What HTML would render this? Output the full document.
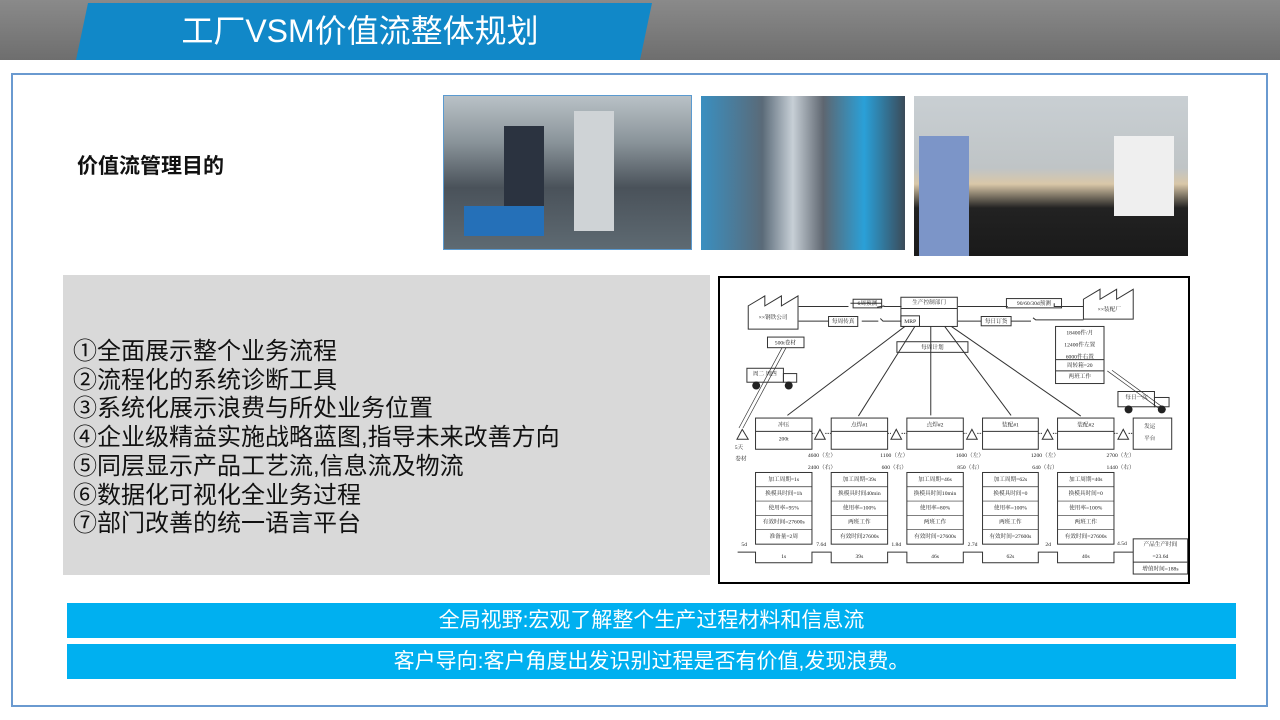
<!DOCTYPE html>
<html><head><meta charset="utf-8"><style>
*{margin:0;padding:0;box-sizing:border-box}
body{width:1280px;height:720px;position:relative;background:#fff;overflow:hidden;font-family:"Liberation Sans","Noto Sans CJK SC",sans-serif}
.top{position:absolute;left:0;top:0;width:1280px;height:60px;background:linear-gradient(#8a8a8a,#6e6e6e)}
.title{position:absolute;left:76px;top:3px;width:576px;height:57px;background:#1188c8;clip-path:polygon(12px 0,576px 0,564px 57px,0 57px);color:#fff;font-size:32px;text-align:center;line-height:57px;padding-right:8px}
.frame{position:absolute;left:11px;top:73px;width:1257px;height:634px;border:2px solid #6a9ad0}
.ph{position:absolute;overflow:hidden}
.gray{position:absolute;left:63px;top:275px;width:647px;height:300px;background:#d9d9d9}
.list{position:absolute;left:73px;top:338px;font-size:24px;line-height:28.7px;color:#111;font-family:"Liberation Sans","Noto Sans CJK SC",sans-serif}
.ban{position:absolute;left:67px;width:1169px;height:35px;background:#00b0f0;color:#fff;font-size:21px;text-align:center;line-height:35px}
.h{position:absolute;left:77px;top:150px;font-size:21px;font-weight:bold;color:#111}
.diag{position:absolute;left:718px;top:276px;width:472px;height:308px;border:2px solid #000;background:#fff}
svg text{font-family:"Liberation Serif","Noto Serif CJK SC",serif;fill:#222}
</style></head><body>
<div class="top"></div>
<div class="title">工厂VSM价值流整体规划</div>
<div class="frame"></div>
<div class="h">价值流管理目的</div>
<div class="ph" style="left:443px;top:95px;width:249px;height:155px;background:linear-gradient(180deg,#b9c1c6 0%,#8a949a 30%,#4a525a 60%,#5e6a72 100%);border:1px solid #5a9ad0">
 <div style="position:absolute;left:60px;top:30px;width:40px;height:90px;background:#2b3340"></div>
 <div style="position:absolute;left:130px;top:15px;width:40px;height:120px;background:#cfd3d6"></div>
 <div style="position:absolute;left:20px;top:110px;width:80px;height:30px;background:#2570b8"></div>
</div>
<div class="ph" style="left:701px;top:96px;width:204px;height:154px;background:linear-gradient(90deg,#3a8fc0 0%,#5a6a78 30%,#c7cfd6 45%,#5e6670 60%,#2aa0d8 80%,#3b4a58 100%)"></div>
<div class="ph" style="left:914px;top:96px;width:274px;height:160px;background:linear-gradient(180deg,#c9cfd3 0%,#bfc4c6 45%,#d9c7a8 55%,#222 70%,#1a1a1a 100%)">
 <div style="position:absolute;left:5px;top:40px;width:50px;height:120px;background:#7c95c8"></div>
 <div style="position:absolute;left:200px;top:40px;width:60px;height:80px;background:#efefef"></div>
</div>
<div class="gray"></div>
<div class="list">①全面展示整个业务流程<br>②流程化的系统诊断工具<br>③系统化展示浪费与所处业务位置<br>④企业级精益实施战略蓝图,指导未来改善方向<br>⑤同层显示产品工艺流,信息流及物流<br>⑥数据化可视化全业务过程<br>⑦部门改善的统一语言平台</div>
<div class="diag">
<svg width="468" height="304" viewBox="4 4 1408 916">
<g stroke="#333" stroke-width="3" fill="none">
<path d="M88 158V88L138 58V88L188 58V88L238 58V158Z"/>
<path d="M1098 128V68L1148 38V68L1198 38V68L1248 38V128Z"/>
<rect x="548" y="62" width="170" height="88"/><line x1="548" y1="96" x2="718" y2="96"/><rect x="548" y="118" width="56" height="32"/>
<rect x="536" y="196" width="214" height="32"/>
<rect x="1014" y="150" width="146" height="172"/><line x1="1014" y1="250" x2="1160" y2="250"/><line x1="1014" y1="284" x2="1160" y2="284"/>
<rect x="146" y="182" width="110" height="32"/>
<rect x="84" y="276" width="110" height="42"/><rect x="194" y="292" width="40" height="26"/>
<rect x="1202" y="346" width="110" height="46"/><rect x="1312" y="364" width="44" height="28"/>
<path d="M240 90H390M396 80H490M476 92L498 88M550 90H496"/>
<path d="M240 134H330M430 134H480M486 126L494 134H550"/>
<path d="M720 90H870M1010 80V90H1098"/>
<path d="M720 134H790M880 134H940M946 124L954 130H1098"/>
<rect x="404" y="68" width="86" height="26"/><rect x="330" y="120" width="88" height="30"/>
<rect x="866" y="66" width="166" height="28"/><rect x="790" y="120" width="90" height="28"/>
<path d="M560 150L206 418M590 150L420 420M638 150V418M680 150L880 418M700 150L1090 420"/>
<g>
<rect x="110" y="426" width="170" height="94"/><line x1="110" y1="466" x2="280" y2="466"/>
<rect x="338" y="426" width="170" height="94"/><line x1="338" y1="466" x2="508" y2="466"/>
<rect x="566" y="426" width="170" height="94"/><line x1="566" y1="466" x2="736" y2="466"/>
<rect x="794" y="426" width="168" height="94"/><line x1="794" y1="466" x2="962" y2="466"/>
<rect x="1020" y="426" width="170" height="94"/><line x1="1020" y1="466" x2="1190" y2="466"/>
<rect x="1248" y="426" width="116" height="94"/>
</g>
<g>
<rect x="110" y="590" width="170" height="216"/><rect x="338" y="590" width="170" height="216"/><rect x="566" y="590" width="170" height="216"/><rect x="794" y="590" width="168" height="216"/><rect x="1020" y="590" width="170" height="216"/>
</g>
<g stroke-width="2">
<path d="M110 633H280M110 676H280M110 719H280M110 762H280M338 633H508M338 676H508M338 719H508M338 762H508M566 633H736M566 676H736M566 719H736M566 762H736M794 633H962M794 676H962M794 719H962M794 762H962M1020 633H1190M1020 676H1190M1020 719H1190M1020 762H1190"/>
</g>
<path d="M56 830H110V862H280V830H338V862H508V830H566V862H736V830H794V862H962V830H1020V862H1190V830H1248"/>
<rect x="1248" y="790" width="164" height="106"/><line x1="1248" y1="860" x2="1412" y2="860"/>
<path d="M54 490L70 460L88 490Z M288 490L304 460L320 490Z M518 490L534 460L550 490Z M746 490L762 460L778 490Z M974 490L990 460L1006 490Z M1202 490L1218 460L1234 490Z"/>
<path d="M280 472H288M320 472H338M508 472H518M550 472H566M736 472H746M778 472H794M962 472H974M1006 472H1020M1190 472H1202M1234 472H1248" stroke-dasharray="4 3"/>
<path d="M190 214L60 456M202 214L72 456" stroke-width="2"/>
<path d="M1330 400L1170 284M1346 400L1184 282" stroke-width="2"/>
</g>
<g fill="#222"><circle cx="112" cy="328" r="12"/><circle cx="210" cy="328" r="12"/><circle cx="1234" cy="400" r="12"/><circle cx="1334" cy="400" r="12"/></g>
<g font-size="17" text-anchor="middle">
<text x="163" y="128">××钢铁公司</text><text x="1176" y="104">××装配厂</text>
<text x="633" y="82">生产控制部门</text><text x="576" y="140">MRP</text><text x="643" y="218">每周计划</text>
<text x="447" y="86">6周预测</text><text x="374" y="140">每周传真</text><text x="949" y="86">90/60/30d预测</text><text x="835" y="140">每日订货</text>
<text x="200" y="204">500t卷材</text><text x="138" y="298">周二 周四</text><text x="1258" y="368">每日一次</text>
<text x="1087" y="174">18400件/月</text><text x="1087" y="210">12400件左置</text><text x="1087" y="246">6000件右置</text><text x="1087" y="272">周转箱=20</text><text x="1087" y="306">两班工作</text>
<text x="195" y="452">冲压</text><text x="195" y="494">200t</text><text x="423" y="452">点焊#1</text><text x="651" y="452">点焊#2</text><text x="878" y="452">装配#1</text><text x="1105" y="452">装配#2</text><text x="1298" y="456">发运</text><text x="1298" y="492">平台</text>
<text x="60" y="520">5天</text><text x="66" y="554">卷材</text>
<text x="310" y="544">4600（左）</text><text x="310" y="580">2400（右）</text><text x="528" y="544">1100（左）</text><text x="528" y="580">600（右）</text>
<text x="756" y="544">1600（左）</text><text x="756" y="580">850（右）</text><text x="982" y="544">1200（左）</text><text x="982" y="580">640（右）</text>
<text x="1210" y="544">2700（左）</text><text x="1210" y="580">1440（右）</text>
<text x="195" y="615">加工周期=1s</text><text x="195" y="658">换模具时间=1h</text><text x="195" y="701">使用率=95%</text><text x="195" y="744">有效时间=27600s</text><text x="195" y="787">准备量=2周</text>
<text x="423" y="615">加工周期=39s</text><text x="423" y="658">换模具时间40min</text><text x="423" y="701">使用率=100%</text><text x="423" y="744">两班工作</text><text x="423" y="787">有效时间27600s</text>
<text x="651" y="615">加工周期=46s</text><text x="651" y="658">换模具时间10min</text><text x="651" y="701">使用率=80%</text><text x="651" y="744">两班工作</text><text x="651" y="787">有效时间=27600s</text>
<text x="878" y="615">加工周期=62s</text><text x="878" y="658">换模具时间=0</text><text x="878" y="701">使用率=100%</text><text x="878" y="744">两班工作</text><text x="878" y="787">有效时间=27600s</text>
<text x="1105" y="615">加工周期=40s</text><text x="1105" y="658">换模具时间=0</text><text x="1105" y="701">使用率=100%</text><text x="1105" y="744">两班工作</text><text x="1105" y="787">有效时间=27600s</text>
<text x="76" y="812">5d</text><text x="308" y="812">7.6d</text><text x="534" y="812">1.8d</text><text x="764" y="812">2.7d</text><text x="992" y="812">2d</text><text x="1214" y="808">4.5d</text>
<text x="195" y="848">1s</text><text x="423" y="848">39s</text><text x="651" y="848">46s</text><text x="878" y="848">62s</text><text x="1105" y="848">40s</text>
<text x="1330" y="812">产品生产时间</text><text x="1330" y="848">=23.6d</text><text x="1330" y="886">增值时间=188s</text>
</g>
</svg>
</div>
<div class="ban" style="top:603px">全局视野:宏观了解整个生产过程材料和信息流</div>
<div class="ban" style="top:644px">客户导向:客户角度出发识别过程是否有价值,发现浪费。</div>
</body></html>
